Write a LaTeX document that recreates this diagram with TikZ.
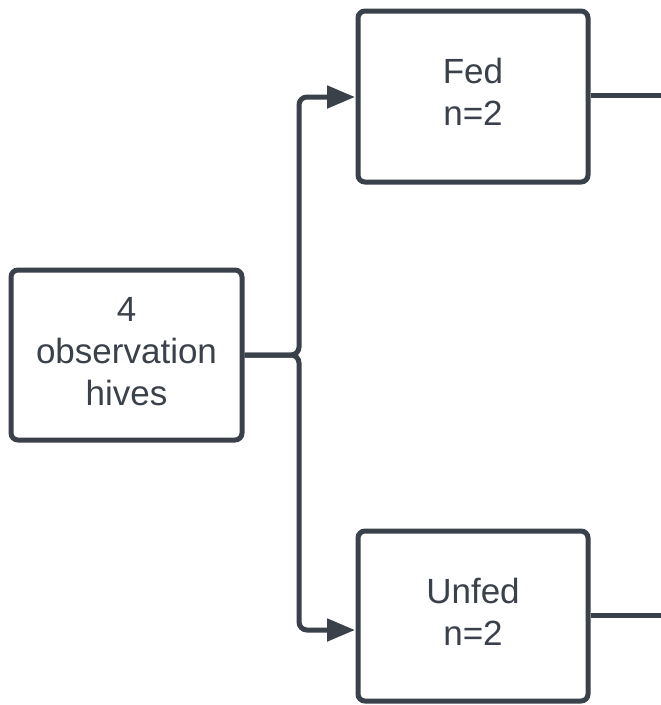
\documentclass[tikz,border=0pt]{standalone}
\usepackage{fontspec}
\setmainfont{Liberation Sans}
\usetikzlibrary{arrows.meta}
\definecolor{ink}{HTML}{3A414A}
\newcommand{\boxtext}[1]{\raisebox{7pt}{\begin{tabular}{@{}c@{}}#1\end{tabular}}}
\begin{document}
\begin{tikzpicture}[x=1pt,y=-1pt,
  box/.style={draw=ink, line width=5pt, rounded corners=7pt, align=center,
    text=ink, font=\fontsize{35}{42}\selectfont, inner sep=0pt},
  conn/.style={draw=ink, line width=5pt, rounded corners=8pt},
  tip/.style={-{Triangle[length=28pt,width=22pt]}}]
\useasboundingbox (0,0) rectangle (661,705);
\node[box, minimum width=231pt, minimum height=170pt] (L) at (126.5,355) {\boxtext{4\\observation\\hives}};
\node[box, minimum width=230pt, minimum height=171pt] (F) at (473,96.5) {\boxtext{Fed\\n=2}};
\node[box, minimum width=230pt, minimum height=170pt] (U) at (473,616) {\boxtext{Unfed\\n=2}};
\coordinate (j) at (299,355);
\coordinate (fa) at (355,97);
\coordinate (ua) at (355,630);
\coordinate (fr) at (661,95);
\coordinate (ur) at (661,615);
\draw[conn, tip] (L.east) -- (j) |- (fa);
\draw[conn, tip] (L.east) -- (j) |- (ua);
\draw[conn] (F.east |- fr) -- (fr);
\draw[conn] (U.east |- ur) -- (ur);
\end{tikzpicture}
\end{document}
